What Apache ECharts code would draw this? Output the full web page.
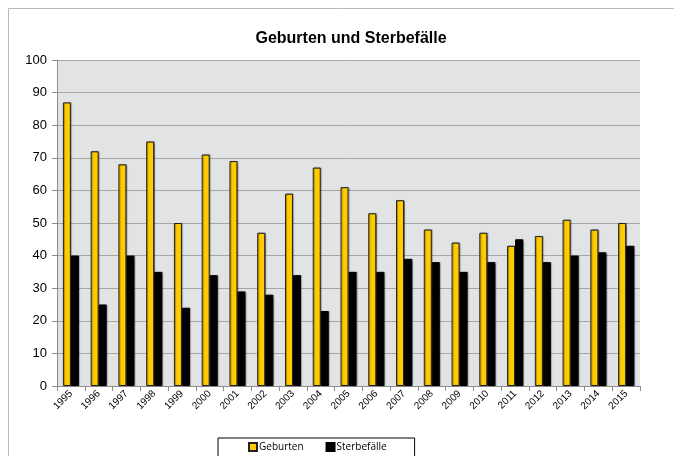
<!DOCTYPE html>
<html>
<head>
<meta charset="utf-8">
<script src="https://cdn.jsdelivr.net/npm/echarts@6/dist/echarts.min.js"></script>
<style>
  html, body { margin: 0; padding: 0; background: #fff; }
  #chart { width: 674px; height: 456px; }
</style>
</head>
<body>
<div id="chart"></div>
<script>
// values
const years = ['1995', '1996', '1997', '1998', '1999', '2000', '2001', '2002', '2003', '2004', '2005',
  '2006', '2007', '2008', '2009', '2010', '2011', '2012', '2013', '2014', '2015']
const geburten = [87, 72, 68, 75, 50, 71, 69, 47, 59, 67, 61, 53, 57, 48, 44, 47, 43, 46, 51, 48, 50]
const sterbefaelle = [40, 25, 40, 35, 24, 34, 29, 28, 34, 23, 35, 35, 39, 38, 35, 38, 45, 38, 40, 41, 43]

const chart = echarts.init(document.getElementById('chart'))
chart.setOption({
  animation: false,
  backgroundColor: '#fff',
  title: {
    text: 'Geburten und Sterbefälle',
    left: 346,
    textAlign: 'center',
    top: 26,
    textStyle: { fontFamily: 'Liberation Sans', fontSize: 16, fontWeight: 'bold', color: '#000' }
  },
  graphic: [{
    type: 'rect',
    shape: { x: 8.5, y: 8.5, width: 700, height: 500 },
    style: { fill: 'none', stroke: '#b8b8b8', lineWidth: 1 },
    silent: true
  }],
  legend: {
    bottom: -2,
    left: 218,
    padding: [4, 28, 6, 30],
    itemGap: 22,
    itemWidth: 8,
    itemHeight: 8,
    borderColor: '#000',
    borderWidth: 1,
    icon: 'rect',
    textStyle: { fontFamily: 'Open Sans', fontSize: 10, color: '#000', padding: [0, 0, 0, -3] },
    data: ['Geburten', 'Sterbefälle']
  },
  grid: { left: 57, right: 34, top: 60, bottom: 70, backgroundColor: '#e2e3e5', show: true, borderWidth: 0 },
  xAxis: {
    type: 'category',
    data: years,
    axisLine: { lineStyle: { color: '#8c8c8c' } },
    axisTick: { show: true, length: 5, lineStyle: { color: '#8c8c8c' } },
    axisLabel: { rotate: 45, fontFamily: 'Liberation Sans', fontSize: 10, color: '#000', margin: 6 }
  },
  yAxis: {
    type: 'value',
    min: 0,
    max: 100,
    interval: 10,
    axisLine: { show: true, lineStyle: { color: '#8c8c8c' } },
    axisTick: { show: true, length: 5, lineStyle: { color: '#8c8c8c' } },
    axisLabel: { fontFamily: 'Liberation Sans', fontSize: 13, color: '#000', margin: 10 },
    splitLine: { lineStyle: { color: '#a6a6a6', width: 1 } }
  },
  series: [
    {
      name: 'Geburten',
      type: 'bar',
      data: geburten,
      barWidth: 8,
      barGap: '0%',
      itemStyle: {
        color: '#ffcc00',
        borderColor: '#222',
        borderWidth: 1,
        shadowColor: 'rgba(0,0,0,0.35)',
        shadowOffsetX: 1,
        shadowOffsetY: 0,
        shadowBlur: 1
      }
    },
    {
      name: 'Sterbefälle',
      type: 'bar',
      data: sterbefaelle,
      barWidth: 8,
      itemStyle: {
        color: '#000',
        borderColor: '#000',
        borderWidth: 1,
        shadowColor: 'rgba(0,0,0,0.35)',
        shadowOffsetX: 1,
        shadowOffsetY: 0,
        shadowBlur: 1
      }
    }
  ]
})
</script>
</body>
</html>
